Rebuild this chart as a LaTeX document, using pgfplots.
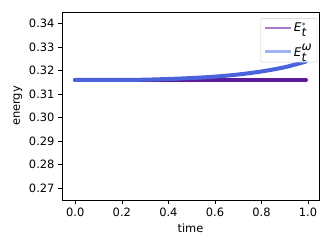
\documentclass[border=0pt]{standalone}
\usepackage{pgfplots}
\pgfplotsset{compat=1.18}
\usepackage{fontspec}
\setmainfont{DejaVu Sans}
\definecolor{purpline}{HTML}{5A1A9A}
\definecolor{purpleg}{HTML}{A67DC8}
\definecolor{blueline}{HTML}{4A62DC}
\definecolor{blueleg}{HTML}{9FB3F3}
\begin{document}
\fontsize{11.5}{13}\selectfont
\begin{tikzpicture}
\useasboundingbox (-62bp,-49bp) rectangle (270bp,200bp);
\begin{axis}[
  scale only axis,
  width=257bp, height=188bp,
  xmin=-0.057, xmax=1.047,
  ymin=0.265, ymax=0.345,
  /pgf/number format/assume math mode=true,
  xtick={0,0.2,0.4,0.6,0.8,1.0},
  ytick={0.27,0.28,0.29,0.30,0.31,0.32,0.33,0.34},
  xticklabel={\pgfmathprintnumber[fixed,fixed zerofill,precision=1,assume math mode=true]{\tick}},
  yticklabel={\pgfmathprintnumber[fixed,fixed zerofill,precision=2,assume math mode=true]{\tick}},
  scaled y ticks=false,
  tick align=outside,
  xtick pos=bottom, ytick pos=left,
  major tick length=3.5bp,
  tick style={black, line width=0.6bp},
  axis line style={line width=0.6bp},
  tick label style={font=\fontsize{11.5}{13}\selectfont},
  label style={font=\fontsize{11.5}{13}\selectfont},
  xlabel={time}, ylabel={energy},
  ylabel style={yshift=-1bp},
  legend style={at={(0.993,0.967)}, anchor=north east, draw=black!20, rounded corners=2bp, fill=white, fill opacity=0.8, text opacity=1, font=\fontsize{12}{13}\selectfont, row sep=7bp, inner xsep=3bp, inner ysep=2bp},
  legend cell align=left,
  legend image code/.code={\draw[#1, line width=2.5bp] (0bp,0bp) -- (26bp,0bp);},
]
\addplot[purpline, line width=4.5bp, line cap=round, forget plot] coordinates {
(0,0.3161) (0.1,0.3161) (0.2,0.3161) (0.3,0.3161) (0.4,0.3161) (0.5,0.3161) (0.6,0.3161) (0.7,0.3161) (0.8,0.3161) (0.9,0.3161) (0.99,0.3161)};
\addplot[blueline, line width=4bp, line cap=round, forget plot, smooth] coordinates {
(0,0.3161) (0.1,0.3161) (0.2,0.3161) (0.3,0.3162) (0.4,0.3165) (0.5,0.3169) (0.6,0.3175) (0.7,0.3184) (0.8,0.3197) (0.9,0.3215) (0.99,0.3239)};
\addlegendimage{purpleg}
\addlegendentry{$\textit{E}_{\textit{t}}^{*}$}
\addlegendimage{blueleg}
\addlegendentry{$\textit{E}_{\textit{t}}^{\textit{ω}}$}
\end{axis}
\end{tikzpicture}
\end{document}
